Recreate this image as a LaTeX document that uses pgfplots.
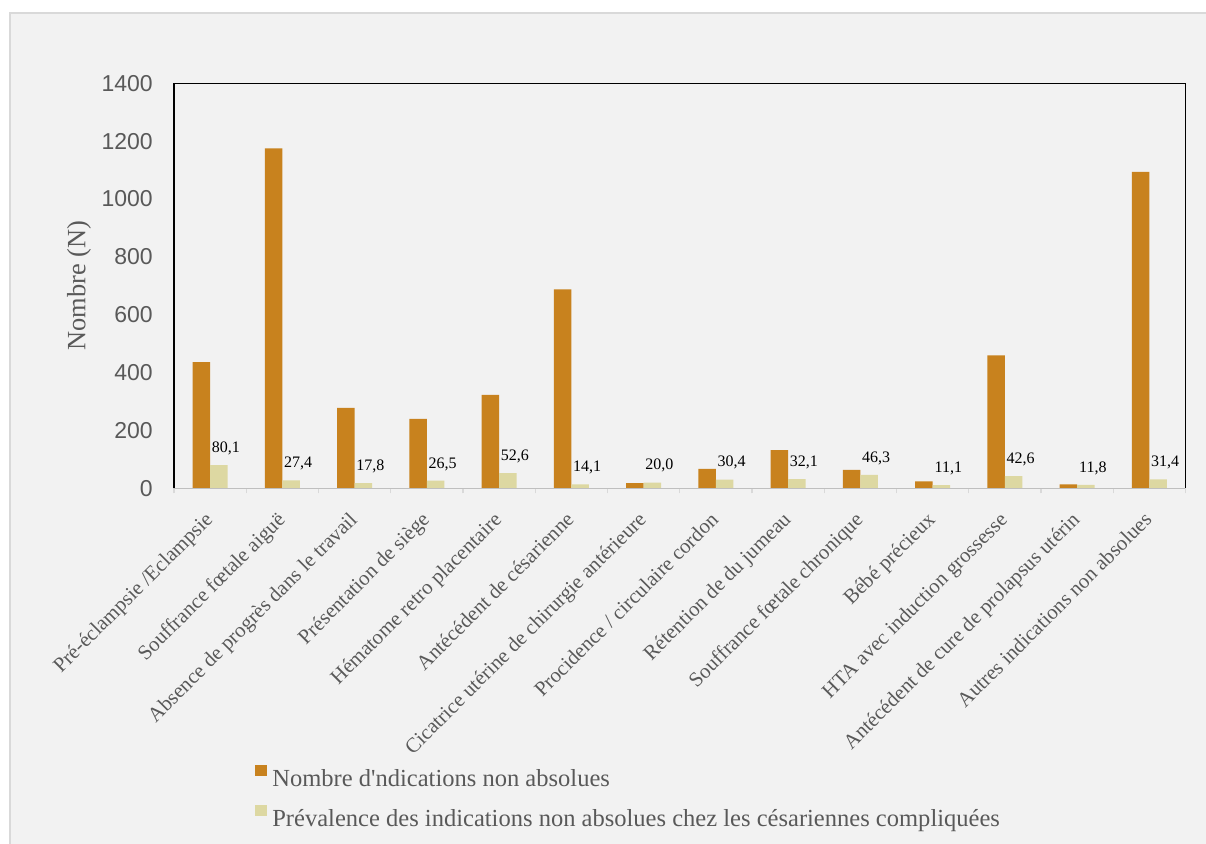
\documentclass[border=0pt]{standalone}
\usepackage{pgfplots}
\usepackage{pgfplotstable}
\pgfplotsset{compat=1.18}
\usepackage{fontspec}
\setmainfont{Liberation Serif}
\newfontfamily\arial{Liberation Sans}
\definecolor{bgc}{HTML}{F2F2F2}
\definecolor{framec}{HTML}{D9D9D9}
\definecolor{orangebar}{HTML}{C8821E}
\definecolor{lightbar}{HTML}{DDD8A2}
\definecolor{txt}{HTML}{595959}
\definecolor{axgray}{HTML}{BFBFBF}

\pgfplotstableread{
x N P
0 436 80.1
1 1175 27.4
2 278 17.8
3 240 26.5
4 323 52.6
5 688 14.1
6 18 20.0
7 67 30.4
8 132 32.1
9 64 46.3
10 24 11.1
11 460 42.6
12 14 11.8
13 1094 31.4
}\datatable

\begin{document}
\begin{tikzpicture}
\useasboundingbox (0,0) rectangle (904.5pt,632.25pt);
\fill[white] (0,0) rectangle (904.5pt,632.25pt);
\filldraw[fill=bgc, draw=framec, line width=1.5pt] (7.5pt,-10pt) rectangle (920pt,622.5pt);
\begin{axis}[
  at={(130.5pt,266pt)}, anchor=south west,
  scale only axis,
  width=758.6pt, height=303.75pt,
  xmin=-0.5, xmax=13.5, ymin=0, ymax=1400,
  ytick={0,200,...,1400},
  xtick={0,...,13},
  xticklabels={Pré-éclampsie /Eclampsie, Souffrance fœtale aiguë, Absence de progrès dans le travail, Présentation de siège, Hématome retro placentaire, Antécédent de césarienne, Cicatrice utérine de chirurgie antérieure, Procidence / circulaire cordon, Rétention de du jumeau, Souffrance fœtale chronique, Bébé précieux, HTA avec induction grossesse, Antécédent de cure de prolapsus utérin, Autres indications non absolues},
  minor xtick={-0.5,0.5,...,13.5},
  major tick length=0pt,
  minor tick length=3.75pt,
  minor tick style={framec, line width=1pt},
  xtick pos=bottom, ytick pos=left,
  axis line style={draw=none},
  ytick style={draw=none},
  xticklabel style={rotate=45, anchor=north east, inner sep=0pt, font=\fontsize{15.6pt}{18pt}\selectfont, text=txt, yshift=-8.2pt, xshift=-15.3pt},
  yticklabel style={font=\arial\fontsize{17.25pt}{20pt}\selectfont, text=txt, anchor=east, inner sep=0pt, xshift=-15.75pt, /pgf/number format/assume math mode=true, /pgf/number format/1000 sep={}},
  ylabel={Nombre (N)},
  ylabel style={at={(rel axis cs:-0.0939,0.5)}, anchor=center, font=\fontsize{19.8pt}{22pt}\selectfont, text=txt},
  ybar=0pt, bar width=13.1pt,
  legend style={at={(rel axis cs:0.0801,0)}, anchor=north west, yshift=-207pt, draw=none, fill=none, inner sep=0pt, font=\fontsize{18.4pt}{21pt}\selectfont, text=txt, row sep=12.3pt, cells={anchor=west}, nodes={inner sep=0pt}, /tikz/every odd column/.style={column sep=4pt}},
  legend image code/.code={\fill[#1] (0pt,1.7pt) rectangle (8.8pt,10.5pt);},
  clip=false,
]
\addplot[fill=orangebar, draw=none] table[x=x, y=N] {\datatable};
\addlegendentry{Nombre d\textquotesingle ndications non absolues}
\addplot[fill=lightbar, draw=none,
  nodes near coords={\pgfmathprintnumber[fixed, fixed zerofill, precision=1, use comma, assume math mode=true]{\pgfplotspointmeta}},
  nodes near coords style={anchor=base, inner sep=0pt, xshift=5.25pt, yshift=9.5pt, font=\fontsize{12pt}{14pt}\selectfont, text=black}
  ] table[x=x, y=P] {\datatable};
\addlegendentry{Prévalence des indications non absolues chez les césariennes compliquées}
\draw[axgray, line width=1.1pt] (rel axis cs:0,0) -- (rel axis cs:1,0);
\draw[black, line width=1.1pt] (rel axis cs:0,0) -- (rel axis cs:0,1) -- (rel axis cs:1,1) -- (rel axis cs:1,0);
\end{axis}
\end{tikzpicture}
\end{document}
